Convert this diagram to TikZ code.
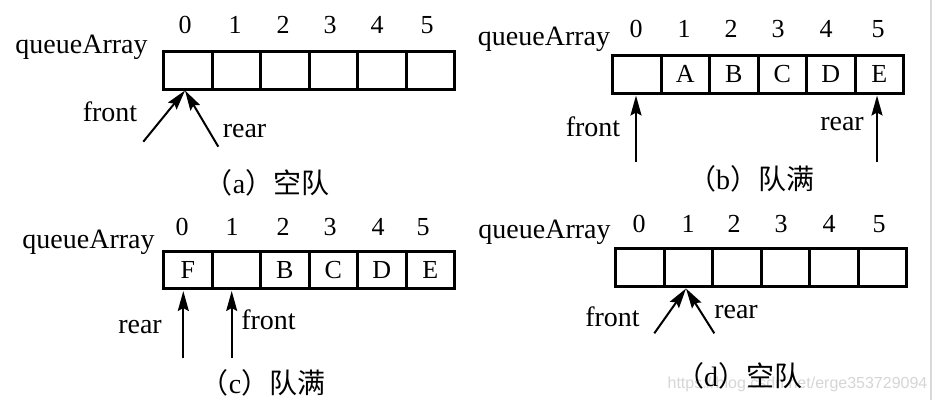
\documentclass[tikz,border=0pt]{standalone}
\usepackage{fontspec}
\setmainfont{Liberation Serif}
\newfontfamily\cjk{Noto Sans CJK SC}
\newfontfamily\wmfont{Liberation Sans}
\usetikzlibrary{arrows.meta}
\newcommand\lblfont{\fontsize{28}{32}\selectfont}
\newcommand\numfont{\fontsize{26}{30}\selectfont}
\newcommand\capfont{\fontsize{28}{32}\selectfont}
\newcommand\qpanel[5]{%
  \foreach \c [count=\i from 0] in {#5} {
    \node[cell, minimum height=#4] (#1\i) at ({#2+24.25+48.5*\i}, #3) {\c};
  }%
}
\tikzset{
  cell/.style={draw, line width=3pt, minimum width=48.5pt, inner sep=0pt, font=\numfont},
  lbl/.style={anchor=base, inner sep=0pt, font=\lblfont},
  idx/.style={anchor=base, inner sep=0pt, font=\numfont},
  capt/.style={anchor=base, inner sep=0pt, font=\capfont},
  ptr/.style={line width=2pt, -{Stealth[length=20pt, width=11pt, inset=3pt]}},
}
\begin{document}
\begin{tikzpicture}[x=1pt, y=-1pt]
\useasboundingbox (0,0) rectangle (936,400);
\fill[white] (0,0) rectangle (936,400);
\draw[line width=1.5pt, black!15] (931,0) -- (931,400);

% ---------- (a) ----------
\qpanel{a}{163.5}{70.5}{38}{{},{},{},{},{},{}}
\foreach \x [count=\i from 0] in {185,235,283,330,377,427}
  \node[idx] (ai\i) at (\x,33) {\i};
\node[lbl] (aq) at (81.5,53) {queueArray};
\coordinate (atip) at (185,90.5);
\coordinate (afs) at (143.3,141.7);
\coordinate (ars) at (218.3,146.7);
\draw[ptr] (afs) -- (atip);
\draw[ptr] (ars) -- (atip);
\node[lbl] (afl) at (110,121.7) {front};
\node[lbl] (arl) at (244.5,137.3) {rear};
\node[capt] (acap) at (267,193) {{\cjk （}a{\cjk ）空队}};

% ---------- (b) ----------
\qpanel{b}{612.5}{74.3}{37.5}{{},A,B,C,D,E}
\foreach \x [count=\i from 0] in {636,684,731,778,826,878}
  \node[idx] (bi\i) at (\x,37) {\i};
\node[lbl] (bq) at (544,45) {queueArray};
\coordinate (bftip) at (636,95.5);
\coordinate (bfs) at (636,162);
\coordinate (brtip) at (877,95.5);
\coordinate (brs) at (877,162);
\draw[ptr] (bfs) -- (bftip);
\draw[ptr] (brs) -- (brtip);
\node[lbl] (bfl) at (593,136) {front};
\node[lbl] (brl) at (842,130) {rear};
\node[capt] (bcap) at (751,189) {{\cjk （}b{\cjk ）队满}};

% ---------- (c) ----------
\qpanel{c}{163.5}{270}{37}{F,{},B,C,D,E}
\foreach \x [count=\i from 0] in {182,232,283,330,378,423}
  \node[idx] (ci\i) at (\x,235) {\i};
\node[lbl] (cq) at (88.5,248) {queueArray};
\coordinate (crtip) at (183.3,291);
\coordinate (crs) at (183.3,358);
\coordinate (cftip) at (231.7,291);
\coordinate (cfs) at (231.7,358);
\draw[ptr] (crs) -- (crtip);
\draw[ptr] (cfs) -- (cftip);
\node[lbl] (crl) at (140,333) {rear};
\node[lbl] (cfl) at (268.5,329) {front};
\node[capt] (ccap) at (263,393) {{\cjk （}c{\cjk ）队满}};

% ---------- (d) ----------
\qpanel{d}{615.5}{267.5}{38}{{},{},{},{},{},{}}
\foreach \x [count=\i from 0] in {639,688,734,781,829,879}
  \node[idx] (di\i) at (\x,232) {\i};
\node[lbl] (dq) at (544.5,238) {queueArray};
\coordinate (dtip) at (686,288.5);
\coordinate (dfs) at (654.3,333.3);
\coordinate (drs) at (714.3,333.3);
\draw[ptr] (dfs) -- (dtip);
\draw[ptr] (drs) -- (dtip);
\node[lbl] (dfl) at (612.5,326.7) {front};
\node[lbl] (drl) at (736,318) {rear};
\node[anchor=base, inner sep=0pt, text=black!16, font=\wmfont\fontsize{16}{18}\selectfont] (wm) at (797.5,388) {https://blog.csdn.net/erge353729094};
\node[capt] (dcap) at (739,386) {{\cjk （}d{\cjk ）空队}};
\end{tikzpicture}
\end{document}
